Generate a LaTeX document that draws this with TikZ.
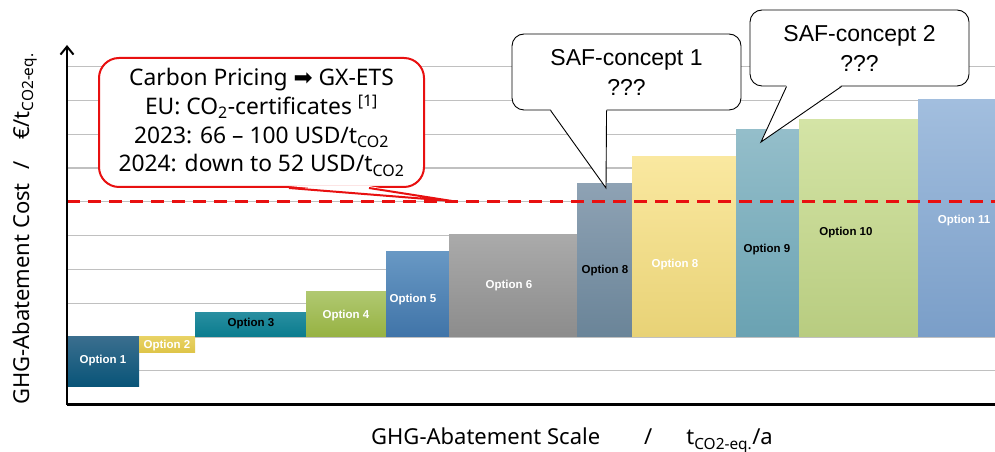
\documentclass[tikz,border=0pt]{standalone}
\usepackage{fontspec}
\setmainfont{Noto Sans}
\newfontfamily\arialfont{Liberation Sans}
\newfontfamily\symfont{DejaVu Sans}
\usetikzlibrary{arrows.meta, calc, positioning}
\definecolor{gridgray}{RGB}{192,192,192}
\definecolor{pricered}{RGB}{232,16,16}
\definecolor{optA}{RGB}{8,84,120}      \definecolor{optAtop}{RGB}{58,110,142}
\definecolor{optB}{RGB}{222,196,72}    \definecolor{optBtop}{RGB}{232,210,100}
\definecolor{optC}{RGB}{10,124,142}    \definecolor{optCtop}{RGB}{40,142,160}
\definecolor{optD}{RGB}{150,178,66}    \definecolor{optDtop}{RGB}{176,200,112}
\definecolor{optE}{RGB}{64,116,168}    \definecolor{optEtop}{RGB}{104,152,196}
\definecolor{optF}{RGB}{140,140,140}   \definecolor{optFtop}{RGB}{170,170,170}
\definecolor{optG}{RGB}{106,132,152}   \definecolor{optGtop}{RGB}{142,162,180}
\definecolor{optH}{RGB}{232,210,118}   \definecolor{optHtop}{RGB}{250,232,160}
\definecolor{optI}{RGB}{106,162,178}   \definecolor{optItop}{RGB}{148,190,202}
\definecolor{optJ}{RGB}{184,204,128}   \definecolor{optJtop}{RGB}{212,228,166}
\definecolor{optK}{RGB}{122,158,200}   \definecolor{optKtop}{RGB}{162,190,222}
\tikzset{>={Straight Barb[length=8pt,width=13pt]},
  gridline/.style={gridgray, line width=1.3pt},
  optlight/.style={text=white, font=\arialfont\bfseries\fontsize{11.5}{13}\selectfont},
  optdark/.style={text=black, font=\arialfont\bfseries\fontsize{11.5}{13}\selectfont},
  safbox/.style={draw=black, fill=white, line width=0.9pt, rounded corners=12pt, align=center,
    inner sep=3pt, font=\arialfont\fontsize{23}{30}\selectfont},
  pricebox/.style={draw=pricered, fill=white, line width=2pt, rounded corners=20pt, align=center,
    inner sep=3pt, font=\fontsize{22.8}{28.7}\selectfont},
  axislabel/.style={font=\fontsize{22}{26}\selectfont}}

\begin{document}
\begin{tikzpicture}[x=1pt, y=1pt]
  \useasboundingbox (0,0) rectangle (995,452);

  % grid
  \foreach \k in {-1,...,8}
    \draw [gridline] (67,{115+33.8*\k}) -- (995,{115+33.8*\k});

  % bars
  \shade [top color=optAtop, bottom color=optA] (67,65) rectangle (139,115);
  \shade [top color=optBtop, bottom color=optB] (139,99) rectangle (195,115);
  \shade [top color=optCtop, bottom color=optC] (195,115) rectangle (306,139);
  \shade [top color=optDtop, bottom color=optD] (306,115) rectangle (386,160);
  \shade [top color=optEtop, bottom color=optE] (386,115) rectangle (449,200);
  \shade [top color=optFtop, bottom color=optF] (449,115) rectangle (577,217);
  \shade [top color=optGtop, bottom color=optG] (577,115) rectangle (632,268);
  \shade [top color=optHtop, bottom color=optH] (632,115) rectangle (736,295);
  \shade [top color=optItop, bottom color=optI] (736,115) rectangle (799,322);
  \shade [top color=optJtop, bottom color=optJ] (799,115) rectangle (918,332);
  \shade [top color=optKtop, bottom color=optK] (918,115) rectangle (995,352);

  \node [optlight] (opt1) at (103,91) {Option 1};
  \node [optlight] (opt2) at (167,106) {Option 2};
  \node [optdark] (opt3) at (251,128) {Option 3};
  \node [optlight] (opt4) at (346,136) {Option 4};
  \node [optlight] (opt5) at (413,152) {Option 5};
  \node [optlight] (opt6) at (509,166) {Option 6};
  \node [optdark] (opt8a) at (605,181) {Option 8};
  \node [optlight] (opt8b) at (675,187) {Option 8};
  \node [optdark] (opt9) at (767,202) {Option 9};
  \node [optdark] (opt10) at (846,219) {Option 10};
  \node [optlight] (opt11) at (964,231) {Option 11};

  % carbon price level
  \draw [pricered, line width=3pt, dash pattern=on 13pt off 8pt] (67,250) -- (995,250);

  % axes
  \coordinate (origin) at (67,47);
  \coordinate (ytop) at (67,407);
  \coordinate (xend) at (995,47);
  \draw [line width=3pt] (origin) -- (xend);
  \draw [line width=2pt, ->] (origin) -- (ytop);
  \node [axislabel, anchor=base] (xlab) at (572,7)
    {GHG-Abatement Scale\hspace{44pt}/\hspace{34pt}t\textsubscript{CO2-eq.}/a};
  \node [axislabel, anchor=base, rotate=90] (ylab) at (29,223)
    {GHG-Abatement Cost\hspace{14pt}/\hspace{21pt}€/t\textsubscript{CO2-eq.}};

  % callouts
  \node [pricebox, minimum width=325pt, minimum height=129pt] (pricing) at (261.5,329.5)
    {Carbon Pricing {\symfont ➡} GX-ETS\\
     EU: CO\textsubscript{2}-certificates \textsuperscript{[1]}\\
     2023: 66 – 100 USD/t\textsubscript{CO2}\\
     2024: down to 52 USD/t\textsubscript{CO2}};
  \coordinate (pricetip) at (452,251);
  \fill [white] ($(pricing.south west)+(191,2)$) -- (pricetip) -- ($(pricing.south west)+(271,2)$) -- cycle;
  \draw [pricered, line width=2pt] ($(pricing.south west)+(191,0)$) -- (pricetip) -- ($(pricing.south west)+(271,0)$);

  \node [safbox, minimum width=229pt, minimum height=76pt] (saf1) at (626.5,380)
    {SAF-concept 1\\???};
  \coordinate (saf1tip) at (606,264);
  \fill [white] ($(saf1.south west)+(39,1.5)$) -- (saf1tip) -- ($(saf1.south west)+(95,1.5)$) -- cycle;
  \draw [line width=0.9pt] ($(saf1.south west)+(39,0)$) -- (saf1tip) -- ($(saf1.south west)+(95,0)$);

  \node [safbox, minimum width=219pt, minimum height=76pt] (saf2) at (859.5,404)
    {SAF-concept 2\\???};
  \coordinate (saf2tip) at (761,310);
  \fill [white] ($(saf2.south west)+(37,1.5)$) -- (saf2tip) -- ($(saf2.south west)+(92,1.5)$) -- cycle;
  \draw [line width=0.9pt] ($(saf2.south west)+(37,0)$) -- (saf2tip) -- ($(saf2.south west)+(92,0)$);

\end{tikzpicture}
\end{document}
